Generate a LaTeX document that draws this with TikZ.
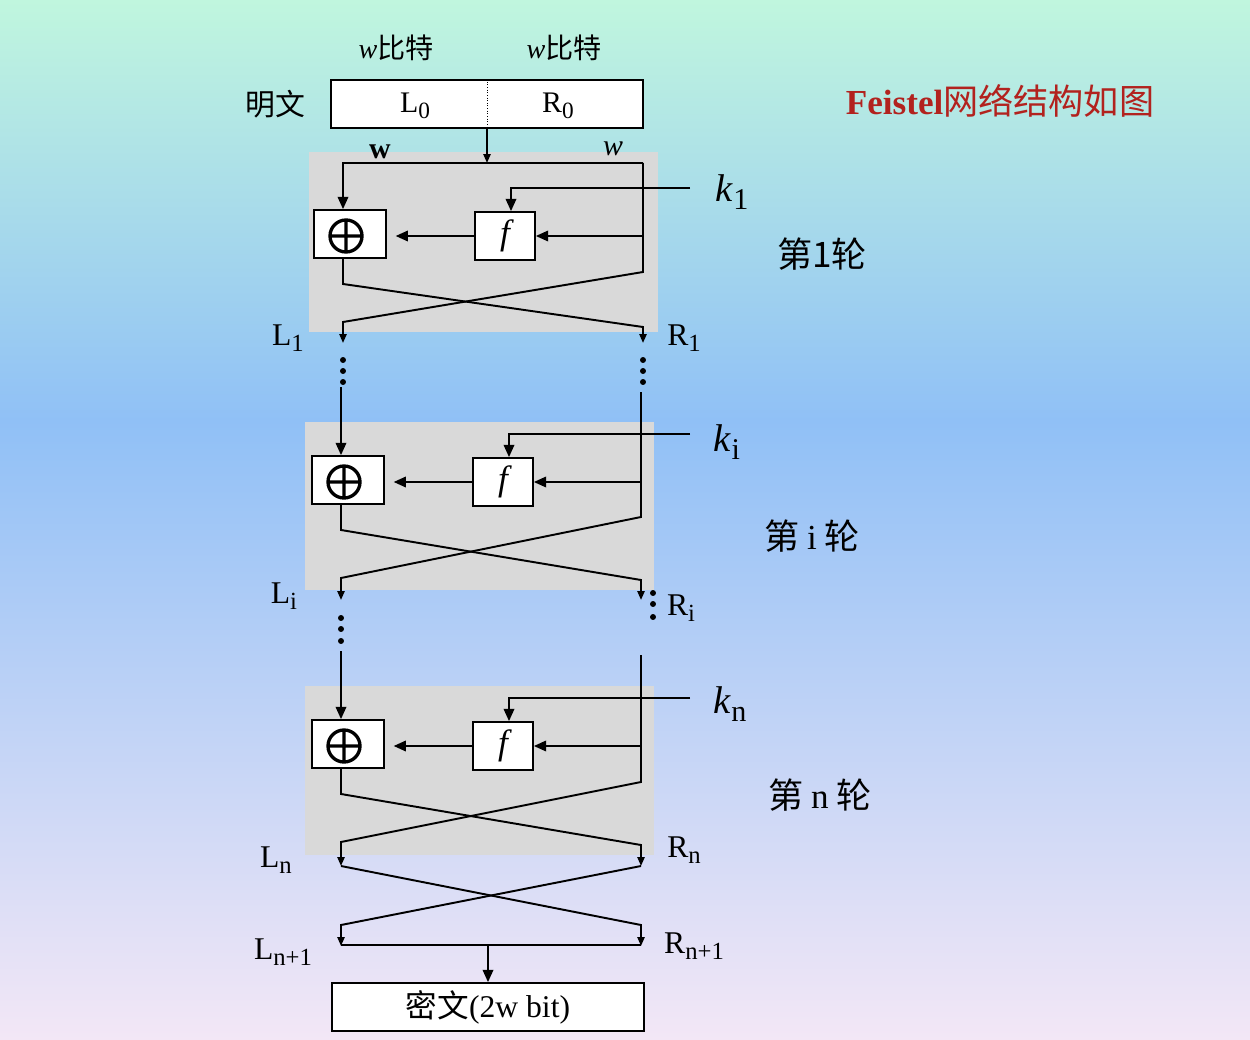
\documentclass[tikz,border=0pt]{standalone}
\usepackage{fontspec}
\setmainfont{Liberation Serif}
\newfontfamily\cjk{Noto Sans CJK SC}
\usetikzlibrary{arrows.meta,calc}
\definecolor{bgtop}{RGB}{192,246,222}
\definecolor{bgmid}{RGB}{144,192,246}
\definecolor{bgbot}{RGB}{243,231,246}
\definecolor{roundgray}{RGB}{217,217,217}
\definecolor{titlered}{RGB}{178,34,30}
\newcommand\lsub[1]{\raisebox{-0.45ex}{\scalebox{0.78}{#1}}}
\newcommand\xorsym[1]{%
  \coordinate (#1c) at ($(#1.center)+(-4,2)$);
  \draw[line width=1.9pt] (#1c) circle[radius=0.32cm]
    ($(#1c)+(-16,0)$) -- ($(#1c)+(16,0)$)
    ($(#1c)+(0,-16)$) -- ($(#1c)+(0,16)$);}
\begin{document}
\begin{tikzpicture}[x=0.02cm,y=-0.02cm,
  wire/.style={line width=1.1pt},
  bigarr/.style={wire,-{Triangle[length=7pt,width=6pt]}},
  smallarr/.style={wire,-{Triangle[length=5pt,width=4pt]}},
  box/.style={draw,line width=1pt,fill=white,inner sep=0pt},
  xorbox/.style={box,minimum width=1.44cm,minimum height=0.96cm},
  fbox/.style={box,minimum width=1.2cm,minimum height=0.96cm,font=\fontsize{20}{22}\selectfont\itshape},
  lbl/.style={font=\fontsize{18}{20}\selectfont,inner sep=0pt},
  klbl/.style={font=\fontsize{22}{24}\selectfont,inner sep=0pt},
  cn/.style={font=\fontsize{20}{24}\selectfont\cjk,inner sep=0pt},
  ddot/.style={circle,fill=black,inner sep=0pt,minimum size=3.4pt}
]
% background
\shade[top color=bgtop,bottom color=bgmid] (0,0) rectangle (1250,421);
\shade[top color=bgmid,bottom color=bgbot] (0,420) rectangle (1250,1040);
\useasboundingbox (0,0) rectangle (1250,1040);

% round backgrounds
\fill[roundgray] (309,152) rectangle (658,332);
\fill[roundgray] (305,422) rectangle (654,590);
\fill[roundgray] (305,686) rectangle (654,855);

% title
\node[font=\fontsize{20}{24}\selectfont,text=titlered,inner sep=0pt] (title) at (1000,101) {\bfseries Feistel{\cjk\mdseries 网络结构如图}};

% plaintext
\node[lbl,font=\fontsize{16}{20}\selectfont] (wa) at (396,48) {\textit{w}{\cjk 比特}};
\node[lbl,font=\fontsize{16}{20}\selectfont] (wb) at (564,48) {\textit{w}{\cjk 比特}};
\node[lbl,font=\fontsize{17}{20}\selectfont\cjk] (mw) at (275,104) {明文};
\node[box,minimum width=6.24cm,minimum height=0.96cm] (pt) at (487,104) {};
\draw[densely dotted,line width=0.5pt] (pt.north) -- (pt.south);
\node[lbl,font=\fontsize{17}{20}\selectfont] (l0) at (415,106) {L\lsub{0}};
\node[lbl,font=\fontsize{17}{20}\selectfont] (r0) at (558,106) {R\lsub{0}};

% ---------- round 1
\node[xorbox] (x1) at (350,234) {};
\xorsym{x1}
\node[fbox] (f1) at (505,236) {f};
\node[lbl,font=\fontsize{17}{20}\selectfont\bfseries] (wl) at (380,152) {w};
\node[lbl,font=\fontsize{17}{20}\selectfont\itshape] (wr) at (613,149) {w};
\coordinate (top1) at (487,163);
\draw[smallarr] (pt.south) -- (top1);
\draw[bigarr] (643,163) -- (343,163) -- ($(x1.north)+(-7,0)$);
\node[klbl] (k1) at (732,192) {\textit{k}\lsub{1}};
\coordinate (k1s) at (690,188);
\draw[bigarr] (k1s) -- (511,188) -- ($(f1.north)+(6,0)$);
\draw[bigarr] (643,236) -- (f1.east);
\draw[bigarr,shorten >=5pt] (f1.west) -- (f1.west -| x1.east);
\draw[smallarr] ($(x1.south)+(-7,0)$) -- (343,284) -- (643,327) -- (643,343);
\draw[smallarr] (643,163) -- (643,272) -- (343,322) -- (343,343);
\node[lbl] (L1) at (288,338) {L\lsub{1}};
\node[lbl] (R1) at (684,338) {R\lsub{1}};
\node[cn] (rd1) at (822,254) {第1轮};

% dots after round 1
\foreach \yy [count=\n] in {360,371,382} {
  \node[ddot] (dl1\n) at (343,\yy) {};
  \node[ddot] (dr1\n) at (643,\yy) {};
}

% ---------- round i
\node[xorbox] (x2) at (348,480) {};
\xorsym{x2}
\node[fbox] (f2) at (503,482) {f};
\coordinate (c2l) at (341,387);
\draw[bigarr] (c2l) -- ($(x2.north)+(-7,0)$);
\node[klbl] (k2) at (727,442) {\textit{k}\lsub{i}};
\coordinate (k2s) at (690,434);
\draw[bigarr] (k2s) -- (509,434) -- ($(f2.north)+(6,0)$);
\draw[bigarr] (641,482) -- (f2.east);
\draw[bigarr,shorten >=5pt] (f2.west) -- (f2.west -| x2.east);
\draw[smallarr] ($(x2.south)+(-7,0)$) -- (341,530) -- (641,580) -- (641,600);
\draw[smallarr] (641,392) -- (641,517) -- (341,578) -- (341,600);
\node[lbl] (L2) at (284,596) {L\lsub{i}};
\node[lbl] (R2) at (681,608) {R\lsub{i}};
\node[cn] (rd2) at (812,536) {第 {\rmfamily i} 轮};

% dots after round i
\foreach \yy [count=\n] in {593,604,617} {
  \node[ddot] (dr2\n) at (653,\yy) {};
}
\foreach \yy [count=\n] in {618,629,641} {
  \node[ddot] (dl2\n) at (341,\yy) {};
}

% ---------- round n
\node[xorbox] (x3) at (348,744) {};
\xorsym{x3}
\node[fbox] (f3) at (503,746) {f};
\coordinate (c3l) at (341,651);
\draw[bigarr] (c3l) -- ($(x3.north)+(-7,0)$);
\node[klbl] (k3) at (730,704) {\textit{k}\lsub{n}};
\coordinate (k3s) at (690,698);
\draw[bigarr] (k3s) -- (509,698) -- ($(f3.north)+(6,0)$);
\draw[bigarr] (641,746) -- (f3.east);
\draw[bigarr,shorten >=5pt] (f3.west) -- (f3.west -| x3.east);
\draw[smallarr] ($(x3.south)+(-7,0)$) -- (341,794) -- (641,845) -- (641,866);
\draw[smallarr] (641,655) -- (641,782) -- (341,842) -- (341,866);
\node[lbl] (L3) at (276,860) {L\lsub{n}};
\node[lbl] (R3) at (684,850) {R\lsub{n}};
\node[cn] (rd3) at (820,795) {第 {\rmfamily n} 轮};

% ---------- final swap
\draw[smallarr] (341,866) -- (641,925) -- (641,946);
\draw[smallarr] (641,866) -- (341,925) -- (341,946);
\draw[wire] (341,945) -- (641,945);
\node[lbl] (L4) at (283,952) {L\lsub{n+1}};
\node[lbl] (R4) at (694,946) {R\lsub{n+1}};
\node[box,minimum width=6.24cm,minimum height=0.96cm,font=\fontsize{18}{20}\selectfont] (ct) at (488,1007) {{\cjk 密文}(2w bit)};
\draw[bigarr] (488,945) -- (ct.north);
\end{tikzpicture}
\end{document}
